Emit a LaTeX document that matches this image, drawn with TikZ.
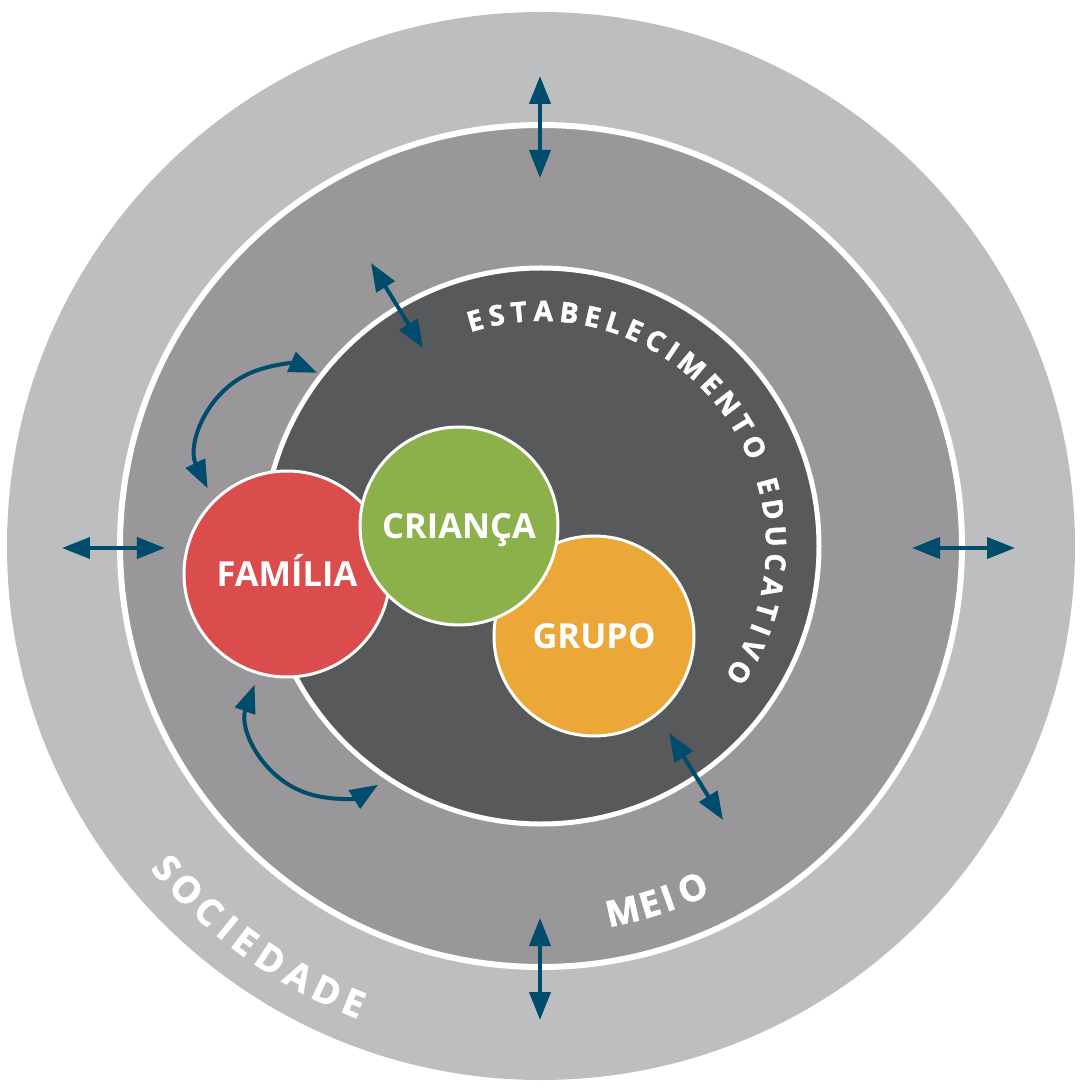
\documentclass[tikz,border=0pt]{standalone}
\usepackage{fontspec}
\setmainfont{Open Sans}
\newfontfamily\arcofont{Open Sans}[BoldFeatures={FakeBold=1.6}]
\newcommand\estfont{\arcofont\bfseries\fontsize{28pt}{28pt}\selectfont}
\newcommand\meiofont{\arcofont\bfseries\fontsize{36pt}{36pt}\selectfont}
\newcommand\socfont{\arcofont\bfseries\fontsize{37pt}{37pt}\selectfont}
\usetikzlibrary{arrows.meta}

\definecolor{sociedade}{RGB}{189,190,192}
\definecolor{meio}{RGB}{153,151,154}
\definecolor{estab}{RGB}{88,89,91}
\definecolor{familia}{RGB}{219,77,76}
\definecolor{crianca}{RGB}{141,177,74}
\definecolor{grupo}{RGB}{235,167,55}
\definecolor{seta}{RGB}{0,76,108}

\begin{document}
\begin{tikzpicture}[x=1pt,y=1pt,
  seta/.style={draw=seta, line width=4pt,
    {Triangle[length=28pt,width=21pt]}-{Triangle[length=28pt,width=21pt]}},
  bolha/.style={circle, draw=white, line width=3pt, text=white, inner sep=0pt,
    font=\bfseries\fontsize{34.5pt}{34.5pt}\selectfont, text height=24.5pt, text depth=0pt},
  letra/.style={text=white, anchor=base, inner sep=0pt},
]
\useasboundingbox (-541,-546) rectangle (541,546);

% ---------- rings: sociedade, meio, estabelecimento ----------
\fill[sociedade] (0,0) circle[radius=534];
\filldraw[fill=meio, draw=white, line width=6pt] (0,0) circle[radius=421];
\filldraw[fill=estab, draw=white, line width=5pt] (0,0) circle[radius=278];

% ---------- straight double arrows ----------
\coordinate (n1) at (-1,470);   \coordinate (n2) at (-1,368);
\coordinate (s1) at (-1,-372);  \coordinate (s2) at (-1,-474);
\coordinate (w1) at (-479,-2);  \coordinate (w2) at (-376,-2);
\coordinate (e1) at (371,-2);   \coordinate (e2) at (474,-2);
\coordinate (nw1) at (-170,283); \coordinate (nw2) at (-118,198);
\coordinate (se1) at (128,-187); \coordinate (se2) at (182,-274);
\draw[seta] (n1) -- (n2);
\draw[seta] (s1) -- (s2);
\draw[seta] (w1) -- (w2);
\draw[seta] (e1) -- (e2);
\draw[seta] (nw1) -- (nw2);
\draw[seta] (se1) -- (se2);

% ---------- curved arrows round the family ----------
\coordinate (arcA) at (-333.4,57.7);
\coordinate (arcB) at (-286.4,-138.8);
\draw[seta] (arcA) arc[start angle=206, end angle=67, radius=85];
\draw[seta] (arcB) arc[start angle=160, end angle=302, radius=84];

% ---------- bubbles ----------
\node[bolha, fill=familia, minimum size=206pt] (familia) at (-254,-28) {FAMÍLIA};
\node[bolha, fill=grupo, minimum size=200pt] (grupo) at (53,-90) {GRUPO};
\node[bolha, fill=crianca, minimum size=198pt] (crianca) at (-82,20) {CRIANÇA};

% ---------- curved labels, one letter at a time ----------
\foreach \ch/\a [count=\i] in {E/106.3, S/100.9, T/95.4, A/89.4, B/83.1, E/77.3, L/71.9,
    E/66.6, C/60.9, I/56.0, M/50.1, E/43.5, N/37.4, T/31.2, O/24.9,
    E/14.9, D/9.0, U/2.4, C/-4.0, A/-10.1, T/-16.1, I/-20.9, V/-26.0, O/-32.5}
  \node[letra, rotate=\a-90] (est\i) at (\a:225) {\estfont\ch};

\foreach \ch/\a [count=\i] in {M/-77.4, E/-73.1, I/-70.2, O/-66.1}
  \node[letra, rotate=\a+90] (meio\i) at (\a:387) {\meiofont\ch};

\foreach \ch/\a [count=\i] in {S/-139.3, O/-135.9, C/-132.3, I/-129.4, E/-126.8,
    D/-123.2, A/-119.4, D/-115.7, E/-112.3}
  \node[letra, rotate=\a+90] (soc\i) at (\a:507) {\socfont\ch};

\end{tikzpicture}
\end{document}
